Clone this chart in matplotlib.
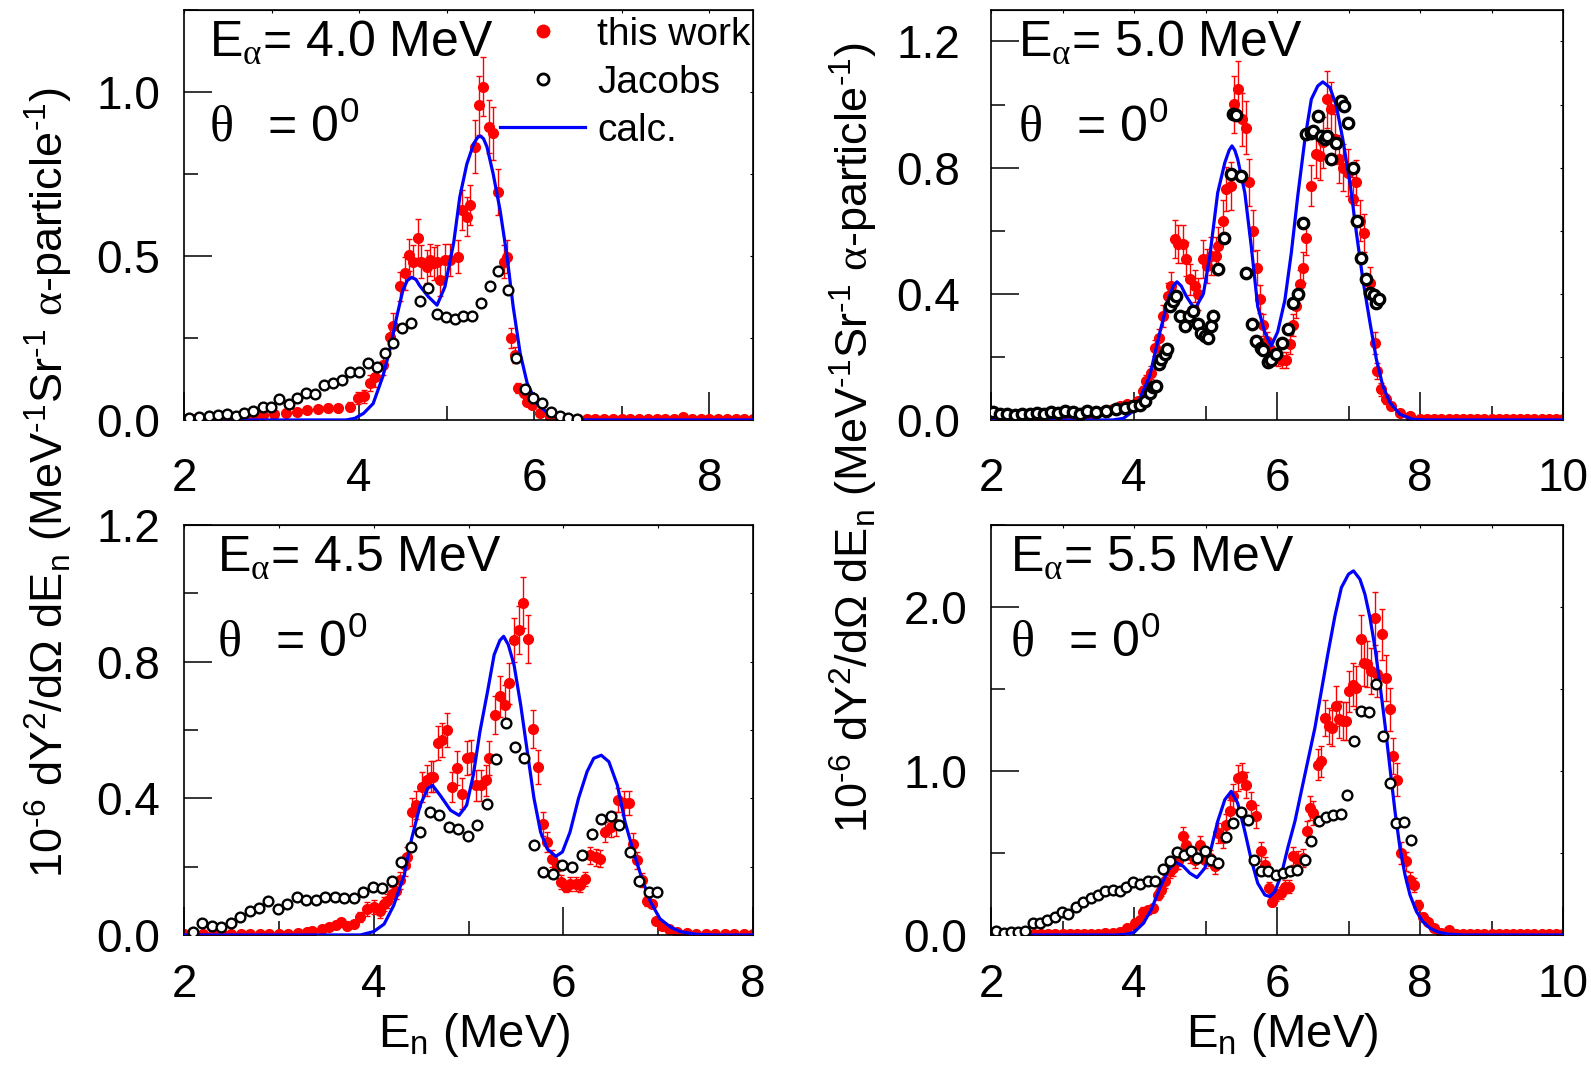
import matplotlib
matplotlib.use("Agg")
import matplotlib.pyplot as plt
from matplotlib.lines import Line2D
from matplotlib.ticker import MultipleLocator, FormatStrFormatter

plt.rcParams["font.family"] = ["Liberation Sans", "DejaVu Sans"]
plt.rcParams["mathtext.fontset"] = "custom"
plt.rcParams["mathtext.rm"] = "Liberation Serif"
plt.rcParams["mathtext.sf"] = "Liberation Sans"
plt.rcParams["mathtext.it"] = "Liberation Sans:italic"
plt.rcParams["mathtext.bf"] = "Liberation Sans:bold"

# ---------------- E_alpha = 4.0 MeV ----------------
e40_x = [2.90, 3.03, 3.16, 3.29, 3.40, 3.53, 3.64, 3.76, 3.89, 3.99,
         4.05, 4.12, 4.18, 4.27, 4.35, 4.39, 4.47, 4.52, 4.57, 4.62,
         4.67, 4.71, 4.77, 4.81, 4.85, 4.89, 4.92, 4.98, 5.04, 5.13,
         5.17, 5.23, 5.27, 5.32, 5.37, 5.42, 5.48, 5.53, 5.59, 5.65,
         5.69, 5.73, 5.78, 5.82, 5.88, 5.92, 5.97, 6.07, 6.18]
e40_y = [0.014, 0.017, 0.022, 0.024, 0.030, 0.034, 0.037, 0.035, 0.041, 0.066,
         0.072, 0.112, 0.130, 0.168, 0.254, 0.285, 0.407, 0.447, 0.503, 0.483,
         0.554, 0.483, 0.467, 0.488, 0.478, 0.483, 0.427, 0.488, 0.488, 0.498,
         0.640, 0.620, 0.655, 0.833, 0.960, 1.016, 0.894, 0.874, 0.696, 0.483,
         0.498, 0.249, 0.198, 0.097, 0.081, 0.056, 0.046, 0.020, 0.010]
e40_err = [0.008, 0.008, 0.008, 0.010, 0.010, 0.010, 0.012, 0.012, 0.014, 0.018,
           0.020, 0.025, 0.030, 0.030, 0.035, 0.040, 0.045, 0.050, 0.050, 0.050,
           0.060, 0.050, 0.050, 0.050, 0.050, 0.050, 0.050, 0.050, 0.050, 0.050,
           0.060, 0.060, 0.060, 0.080, 0.090, 0.090, 0.080, 0.080, 0.070, 0.050,
           0.050, 0.030, 0.025, 0.015, 0.012, 0.010, 0.008, 0.005, 0.003]
e40_base_x = [2.0, 2.1, 2.2, 2.3, 2.4, 2.5, 2.6, 2.7, 2.8,
              6.3, 6.4, 6.5, 6.6, 6.7, 6.8, 6.9, 7.0, 7.1, 7.2, 7.3, 7.4,
              7.5, 7.6, 7.7, 7.8, 7.9, 8.0, 8.1, 8.2, 8.3, 8.4, 8.5]
e40_base_y = [0.004, 0.004, 0.004, 0.004, 0.004, 0.004, 0.004, 0.004, 0.004,
              0.004, 0.004, 0.004, 0.004, 0.004, 0.004, 0.004, 0.004, 0.004, 0.004, 0.004, 0.004,
              0.004, 0.004, 0.010, 0.004, 0.004, 0.004, 0.004, 0.004, 0.004, 0.004, 0.004]
e40_jac_x = [2.06, 2.17, 2.28, 2.39, 2.49, 2.59, 2.68, 2.79, 2.90, 2.99,
             3.09, 3.20, 3.29, 3.39, 3.50, 3.60, 3.70, 3.80, 3.90, 4.00,
             4.10, 4.20, 4.29, 4.39, 4.49, 4.59, 4.69, 4.79, 4.89, 4.99,
             5.09, 5.19, 5.29, 5.39, 5.50, 5.59, 5.70, 5.79, 5.89, 5.99,
             6.09, 6.19, 6.29, 6.39, 6.49]
e40_jac_y = [0.007, 0.010, 0.012, 0.014, 0.017, 0.012, 0.020, 0.027, 0.040, 0.040,
             0.063, 0.048, 0.068, 0.083, 0.078, 0.108, 0.112, 0.122, 0.147, 0.147,
             0.173, 0.163, 0.203, 0.234, 0.279, 0.297, 0.364, 0.401, 0.323, 0.313,
             0.307, 0.317, 0.317, 0.356, 0.409, 0.454, 0.396, 0.188, 0.093, 0.066,
             0.051, 0.025, 0.012, 0.007, 0.003]
e40_calc_x = [2.0, 3.85, 3.95, 4.05, 4.16, 4.27, 4.35, 4.43, 4.50, 4.55,
              4.60, 4.65, 4.69, 4.79, 4.89, 4.98, 5.08, 5.15, 5.23, 5.31,
              5.35, 5.38, 5.42, 5.46, 5.53, 5.61, 5.69, 5.76, 5.84, 5.92,
              6.03, 6.18, 6.41, 6.6, 8.5]
e40_calc_y = [0.0, 0.0, 0.005, 0.02, 0.05, 0.132, 0.213, 0.315, 0.396, 0.425,
              0.435, 0.428, 0.41, 0.376, 0.35, 0.406, 0.54, 0.68, 0.78, 0.843,
              0.860, 0.866, 0.858, 0.833, 0.752, 0.64, 0.498, 0.345, 0.203, 0.112,
              0.05, 0.015, 0.002, 0.0, 0.0]

# ---------------- E_alpha = 5.0 MeV ----------------
e50_x = [4.06, 4.13, 4.17, 4.24, 4.29, 4.35, 4.41, 4.48, 4.52, 4.57,
         4.62, 4.68, 4.73, 4.78, 4.85, 4.90, 4.97, 5.02, 5.08, 5.14,
         5.17, 5.24, 5.29, 5.35, 5.40, 5.45, 5.51, 5.57, 5.61, 5.66,
         5.72, 5.76, 5.81, 5.86, 5.90, 5.96, 6.01, 6.07, 6.13, 6.18,
         6.22, 6.27, 6.32, 6.36, 6.41, 6.48, 6.55, 6.60, 6.64, 6.70,
         6.76, 6.81, 6.87, 6.92, 6.99, 7.06, 7.11, 7.16, 7.21, 7.30,
         7.37, 7.40, 7.46, 7.53, 7.60, 7.72, 7.86]
e50_y = [0.060, 0.092, 0.124, 0.150, 0.229, 0.260, 0.330, 0.393, 0.425, 0.573,
         0.557, 0.557, 0.510, 0.446, 0.425, 0.400, 0.510, 0.488, 0.520, 0.520,
         0.552, 0.631, 0.731, 0.742, 1.001, 1.049, 0.953, 0.927, 0.753, 0.600,
         0.483, 0.383, 0.300, 0.250, 0.226, 0.200, 0.195, 0.190, 0.190, 0.240,
         0.300, 0.362, 0.430, 0.483, 0.578, 0.742, 0.843, 0.837, 0.880, 1.017,
         0.985, 0.890, 0.827, 0.800, 0.784, 0.700, 0.753, 0.631, 0.594, 0.435,
         0.245, 0.155, 0.097, 0.066, 0.044, 0.023, 0.013]
e50_err = [0.012, 0.015, 0.020, 0.020, 0.025, 0.030, 0.035, 0.040, 0.045, 0.060,
           0.060, 0.060, 0.055, 0.050, 0.050, 0.050, 0.060, 0.055, 0.060, 0.060,
           0.060, 0.065, 0.070, 0.075, 0.090, 0.090, 0.085, 0.085, 0.075, 0.065,
           0.055, 0.045, 0.035, 0.030, 0.030, 0.025, 0.025, 0.025, 0.025, 0.030,
           0.035, 0.040, 0.045, 0.050, 0.055, 0.065, 0.075, 0.075, 0.080, 0.090,
           0.085, 0.080, 0.075, 0.075, 0.075, 0.070, 0.070, 0.065, 0.060, 0.050,
           0.035, 0.025, 0.020, 0.015, 0.010, 0.008, 0.005]
e50_base_x = [2.0, 2.1, 2.2, 2.3, 2.4, 2.5, 2.6, 2.7, 2.8, 2.9,
              3.0, 3.1, 3.2, 3.3, 3.4, 3.5, 3.6, 3.7, 3.8, 3.9,
              8.0, 8.1, 8.2, 8.3, 8.4, 8.5, 8.6, 8.7, 8.8, 8.9, 9.0,
              9.1, 9.2, 9.3, 9.4, 9.5, 9.6, 9.7, 9.8, 9.9, 10.0]
e50_base_y = [0.004, 0.004, 0.004, 0.004, 0.004, 0.004, 0.004, 0.004, 0.004, 0.004,
              0.008, 0.010, 0.015, 0.020, 0.020, 0.025, 0.030, 0.035, 0.045, 0.050,
              0.004, 0.004, 0.004, 0.004, 0.004, 0.004, 0.004, 0.004, 0.004, 0.004, 0.004,
              0.004, 0.004, 0.004, 0.004, 0.004, 0.004, 0.004, 0.004, 0.004, 0.004]
e50_jac_x = [2.03, 2.13, 2.23, 2.33, 2.43, 2.54, 2.64, 2.74, 2.84, 2.94,
             3.04, 3.14, 3.24, 3.34, 3.47, 3.61, 3.75, 3.87, 3.99, 4.08,
             4.15, 4.22, 4.27, 4.31, 4.35, 4.38, 4.43, 4.46, 4.50, 4.55,
             4.59, 4.64, 4.71, 4.77, 4.83, 4.90, 4.94, 4.99, 5.03, 5.08,
             5.11, 5.17, 5.26, 5.36, 5.39, 5.43, 5.50, 5.56, 5.65, 5.71,
             5.77, 5.81, 5.87, 5.92, 5.99, 6.07, 6.16, 6.22, 6.29, 6.36,
             6.41, 6.47, 6.51, 6.57, 6.62, 6.67, 6.70, 6.76, 6.82, 6.89,
             6.94, 6.99, 7.06, 7.12, 7.18, 7.24, 7.30, 7.35, 7.39, 7.43]
e50_jac_y = [0.025, 0.018, 0.020, 0.015, 0.020, 0.018, 0.022, 0.020, 0.026, 0.022,
             0.028, 0.025, 0.020, 0.030, 0.025, 0.029, 0.034, 0.039, 0.044, 0.047,
             0.060, 0.087, 0.103, 0.108, 0.177, 0.192, 0.208, 0.224, 0.362, 0.377,
             0.393, 0.330, 0.298, 0.330, 0.346, 0.303, 0.277, 0.266, 0.261, 0.298,
             0.330, 0.478, 0.578, 0.779, 0.969, 0.966, 0.774, 0.467, 0.303, 0.250,
             0.229, 0.222, 0.184, 0.190, 0.208, 0.243, 0.290, 0.372, 0.398, 0.626,
             0.908, 0.911, 0.916, 0.964, 0.900, 0.890, 0.900, 0.827, 0.877, 1.012,
             0.996, 0.943, 0.800, 0.631, 0.515, 0.446, 0.404, 0.395, 0.372, 0.383]
e50_calc_x = [2.0, 3.7, 3.85, 4.0, 4.08, 4.22, 4.36, 4.48, 4.55, 4.60,
              4.66, 4.73, 4.85, 4.97, 5.06, 5.17, 5.27, 5.33, 5.37, 5.41,
              5.45, 5.55, 5.64, 5.73, 5.83, 5.92, 6.01, 6.11, 6.20, 6.29,
              6.39, 6.48, 6.57, 6.64, 6.74, 6.83, 6.92, 7.02, 7.11, 7.20,
              7.30, 7.39, 7.48, 7.58, 7.72, 7.90, 8.1, 10.0]
e50_calc_y = [0.0, 0.0, 0.005, 0.03, 0.066, 0.14, 0.277, 0.383, 0.425, 0.438,
              0.425, 0.393, 0.351, 0.40, 0.52, 0.72, 0.816, 0.855, 0.869, 0.855,
              0.827, 0.72, 0.55, 0.36, 0.277, 0.235, 0.28, 0.38, 0.53, 0.71,
              0.89, 1.017, 1.059, 1.072, 1.054, 0.996, 0.89, 0.753, 0.594, 0.446,
              0.309, 0.192, 0.108, 0.055, 0.018, 0.002, 0.0, 0.0]

# ---------------- E_alpha = 4.5 MeV ----------------
e45_x = [3.35, 3.45, 3.53, 3.60, 3.65, 3.72, 3.79, 3.86, 3.93, 4.00,
         4.07, 4.11, 4.14, 4.19, 4.23, 4.28, 4.33, 4.35, 4.40, 4.45,
         4.51, 4.56, 4.60, 4.63, 4.68, 4.72, 4.77, 4.83, 4.88, 4.93,
         4.98, 5.03, 5.08, 5.13, 5.18, 5.22, 5.28, 5.33, 5.38, 5.43,
         5.48, 5.53, 5.57, 5.63, 5.68, 5.73, 5.78, 5.83, 5.88, 5.93,
         5.98, 6.03, 6.07, 6.13, 6.18, 6.23, 6.28, 6.34, 6.39, 6.44,
         6.50, 6.55, 6.58, 6.64, 6.69, 6.73, 6.78, 6.83, 6.88, 6.93,
         6.98, 7.04, 7.11]
e45_y = [0.013, 0.017, 0.022, 0.030, 0.037, 0.027, 0.032, 0.052, 0.076, 0.081,
         0.071, 0.091, 0.100, 0.120, 0.130, 0.160, 0.204, 0.228, 0.360, 0.380,
         0.433, 0.453, 0.463, 0.463, 0.561, 0.570, 0.600, 0.433, 0.489, 0.414,
         0.517, 0.522, 0.438, 0.438, 0.453, 0.517, 0.644, 0.698, 0.673, 0.737,
         0.864, 0.893, 0.972, 0.867, 0.603, 0.492, 0.326, 0.272, 0.223, 0.199,
         0.155, 0.140, 0.150, 0.150, 0.145, 0.164, 0.233, 0.228, 0.223, 0.301,
         0.316, 0.326, 0.394, 0.385, 0.385, 0.267, 0.218, 0.160, 0.100, 0.091,
         0.042, 0.027, 0.018]
e45_err = [0.006, 0.008, 0.008, 0.010, 0.010, 0.010, 0.010, 0.015, 0.020, 0.020,
           0.020, 0.020, 0.020, 0.020, 0.025, 0.025, 0.030, 0.030, 0.040, 0.040,
           0.045, 0.045, 0.045, 0.045, 0.050, 0.050, 0.050, 0.045, 0.050, 0.045,
           0.050, 0.050, 0.045, 0.045, 0.045, 0.050, 0.055, 0.060, 0.060, 0.060,
           0.065, 0.070, 0.075, 0.070, 0.055, 0.050, 0.035, 0.030, 0.025, 0.020,
           0.020, 0.015, 0.020, 0.020, 0.020, 0.020, 0.025, 0.025, 0.025, 0.030,
           0.030, 0.035, 0.035, 0.035, 0.035, 0.030, 0.025, 0.020, 0.015, 0.010,
           0.008, 0.006, 0.005]
e45_base_x = [2.0, 2.1, 2.2, 2.3, 2.4, 2.5, 2.6, 2.7, 2.8, 2.9, 3.0, 3.1, 3.2, 3.3,
              7.2, 7.3, 7.4, 7.5, 7.6, 7.7, 7.8, 7.9, 8.0]
e45_base_y = [0.004, 0.004, 0.004, 0.004, 0.004, 0.004, 0.004, 0.004, 0.004, 0.004,
              0.004, 0.004, 0.006, 0.008,
              0.010, 0.006, 0.004, 0.004, 0.004, 0.004, 0.004, 0.004, 0.004]
e45_jac_x = [2.09, 2.19, 2.29, 2.39, 2.49, 2.59, 2.69, 2.79, 2.89, 2.99,
             3.09, 3.19, 3.29, 3.39, 3.49, 3.59, 3.69, 3.79, 3.89, 3.99,
             4.09, 4.19, 4.29, 4.39, 4.49, 4.59, 4.69, 4.79, 4.89, 4.99,
             5.09, 5.19, 5.29, 5.39, 5.49, 5.59, 5.69, 5.79, 5.89, 5.99,
             6.09, 6.20, 6.30, 6.40, 6.50, 6.59, 6.70, 6.80, 6.90, 6.99]
e45_jac_y = [0.008, 0.034, 0.027, 0.022, 0.034, 0.054, 0.071, 0.080, 0.100, 0.075,
             0.090, 0.111, 0.101, 0.101, 0.112, 0.112, 0.108, 0.108, 0.127, 0.140,
             0.137, 0.157, 0.213, 0.257, 0.301, 0.360, 0.352, 0.316, 0.309, 0.290,
             0.321, 0.382, 0.515, 0.619, 0.551, 0.519, 0.264, 0.184, 0.179, 0.204,
             0.199, 0.233, 0.296, 0.340, 0.348, 0.323, 0.243, 0.157, 0.125, 0.125]
e45_calc_x = [2.0, 3.86, 4.0, 4.11, 4.21, 4.32, 4.40, 4.49, 4.57, 4.62,
              4.70, 4.81, 4.90, 4.98, 5.05, 5.12, 5.20, 5.27, 5.33, 5.37,
              5.42, 5.48, 5.55, 5.62, 5.69, 5.76, 5.83, 5.92, 5.99, 6.07,
              6.16, 6.25, 6.32, 6.40, 6.48, 6.57, 6.65, 6.74, 6.83, 6.92,
              7.02, 7.13, 7.23, 7.40, 7.60, 8.0]
e45_calc_y = [0.0, 0.0, 0.01, 0.032, 0.086, 0.174, 0.282, 0.38, 0.429, 0.438,
              0.409, 0.365, 0.35, 0.38, 0.468, 0.595, 0.712, 0.82, 0.862, 0.874,
              0.849, 0.79, 0.673, 0.536, 0.40, 0.301, 0.252, 0.23, 0.243, 0.301,
              0.40, 0.478, 0.517, 0.526, 0.507, 0.438, 0.331, 0.243, 0.164, 0.096,
              0.047, 0.023, 0.01, 0.002, 0.0, 0.0]

# ---------------- E_alpha = 5.5 MeV ----------------
e55_x = [4.01, 4.08, 4.13, 4.20, 4.27, 4.34, 4.38, 4.44, 4.50, 4.55,
         4.62, 4.68, 4.73, 4.78, 4.85, 4.92, 4.99, 5.06, 5.13, 5.17,
         5.24, 5.29, 5.34, 5.39, 5.45, 5.51, 5.57, 5.64, 5.71, 5.77,
         5.83, 5.89, 5.93, 5.99, 6.05, 6.11, 6.17, 6.22, 6.29, 6.36,
         6.42, 6.46, 6.51, 6.57, 6.62, 6.67, 6.73, 6.77, 6.82, 6.86,
         6.92, 6.97, 7.01, 7.06, 7.11, 7.17, 7.21, 7.26, 7.32, 7.37,
         7.40, 7.47, 7.53, 7.58, 7.62, 7.68, 7.74, 7.80, 7.86, 7.91,
         7.97, 8.04, 8.11]
e55_y = [0.071, 0.092, 0.143, 0.153, 0.163, 0.244, 0.275, 0.326, 0.387, 0.407,
         0.448, 0.601, 0.550, 0.489, 0.458, 0.550, 0.458, 0.468, 0.418, 0.621,
         0.591, 0.672, 0.754, 0.845, 0.957, 0.967, 0.916, 0.794, 0.723, 0.509,
         0.428, 0.285, 0.204, 0.244, 0.255, 0.295, 0.295, 0.479, 0.458, 0.468,
         0.631, 0.774, 0.743, 1.039, 1.059, 1.324, 1.273, 1.263, 1.395, 1.314,
         1.303, 1.303, 1.487, 1.527, 1.507, 1.802, 1.660, 1.650, 1.609, 1.930,
         1.589, 1.833, 1.568, 1.375, 1.090, 0.947, 0.499, 0.448, 0.336, 0.305,
         0.183, 0.112, 0.081]
e55_err = [0.020, 0.020, 0.025, 0.025, 0.025, 0.030, 0.035, 0.040, 0.040, 0.045,
           0.045, 0.060, 0.055, 0.050, 0.050, 0.055, 0.050, 0.050, 0.045, 0.060,
           0.060, 0.065, 0.070, 0.075, 0.080, 0.080, 0.080, 0.075, 0.070, 0.055,
           0.050, 0.040, 0.030, 0.035, 0.035, 0.040, 0.040, 0.055, 0.055, 0.055,
           0.065, 0.075, 0.075, 0.095, 0.095, 0.110, 0.110, 0.110, 0.120, 0.115,
           0.115, 0.115, 0.125, 0.130, 0.130, 0.150, 0.140, 0.140, 0.140, 0.160,
           0.140, 0.155, 0.140, 0.130, 0.110, 0.100, 0.065, 0.060, 0.050, 0.045,
           0.030, 0.020, 0.015]
e55_base_x = [2.0, 2.1, 2.2, 2.3, 2.4, 2.5, 2.6, 2.7, 2.8, 2.9,
              3.0, 3.1, 3.2, 3.3, 3.4, 3.5, 3.6, 3.7, 3.8, 3.9,
              8.2, 8.3, 8.4, 8.5, 8.6, 8.7, 8.8, 8.9, 9.0, 9.1,
              9.2, 9.3, 9.4, 9.5, 9.6, 9.7, 9.8, 9.9, 10.0]
e55_base_y = [0.008, 0.008, 0.008, 0.008, 0.008, 0.008, 0.008, 0.008, 0.008, 0.008,
              0.008, 0.008, 0.008, 0.008, 0.008, 0.008, 0.010, 0.015, 0.020, 0.040,
              0.040, 0.010, 0.032, 0.008, 0.008, 0.008, 0.008, 0.008, 0.008, 0.008,
              0.008, 0.008, 0.008, 0.008, 0.008, 0.008, 0.008, 0.008, 0.008]
e55_jac_x = [2.07, 2.18, 2.28, 2.38, 2.48, 2.58, 2.68, 2.78, 2.89, 2.99,
             3.08, 3.19, 3.29, 3.40, 3.50, 3.59, 3.70, 3.80, 3.89, 3.99,
             4.09, 4.20, 4.29, 4.40, 4.50, 4.60, 4.70, 4.79, 4.88, 4.99,
             5.08, 5.18, 5.28, 5.38, 5.49, 5.59, 5.68, 5.78, 5.88, 5.98,
             6.08, 6.18, 6.28, 6.39, 6.48, 6.59, 6.68, 6.78, 6.89, 6.98,
             7.08, 7.18, 7.28, 7.38, 7.48, 7.58, 7.67, 7.77, 7.87]
e55_jac_y = [0.026, 0.012, 0.016, 0.020, 0.026, 0.073, 0.073, 0.093, 0.107, 0.138,
             0.128, 0.172, 0.202, 0.224, 0.244, 0.269, 0.275, 0.269, 0.295, 0.322,
             0.310, 0.326, 0.330, 0.403, 0.448, 0.505, 0.489, 0.513, 0.472, 0.509,
             0.458, 0.438, 0.595, 0.682, 0.747, 0.703, 0.458, 0.387, 0.387, 0.367,
             0.377, 0.387, 0.397, 0.458, 0.570, 0.692, 0.717, 0.733, 0.737, 0.851,
             1.185, 1.365, 1.360, 1.532, 1.212, 0.927, 0.682, 0.686, 0.580]
e55_calc_x = [2.0, 3.75, 3.89, 4.0, 4.13, 4.24, 4.36, 4.48, 4.58, 4.69,
              4.78, 4.88, 4.99, 5.08, 5.17, 5.27, 5.36, 5.45, 5.55, 5.64,
              5.73, 5.83, 5.90, 5.97, 6.06, 6.15, 6.25, 6.34, 6.43, 6.53,
              6.62, 6.71, 6.81, 6.90, 7.0, 7.07, 7.16, 7.23, 7.30, 7.37,
              7.44, 7.51, 7.58, 7.65, 7.72, 7.79, 7.86, 7.95, 8.04, 8.14,
              8.25, 8.4, 8.6, 10.0]
e55_calc_y = [0.0, 0.0, 0.004, 0.016, 0.071, 0.153, 0.285, 0.397, 0.444, 0.418,
              0.377, 0.35, 0.407, 0.53, 0.692, 0.825, 0.876, 0.804, 0.631, 0.458,
              0.316, 0.244, 0.234, 0.265, 0.367, 0.53, 0.692, 0.876, 1.059, 1.263,
              1.487, 1.711, 1.945, 2.118, 2.2, 2.22, 2.169, 2.077, 1.935, 1.752,
              1.527, 1.283, 1.018, 0.754, 0.53, 0.367, 0.244, 0.143, 0.081, 0.041,
              0.018, 0.005, 0.0, 0.0]

RED = "#ff0000"
BLUE = "#0000ff"
TICK_FS = 33
ANN_FS = 36
# ROOT-style hyphen in the exponents
YLABEL = (r"10$^{\mathsf{‐6}}$ dY$^{\mathsf{2}}$/dΩ dE$_{\mathsf{n}}$ "
          r"(MeV$^{\mathsf{‐1}}$Sr$^{\mathsf{‐1}}$ $\mathrm{\alpha}$-particle$^{\mathsf{‐1}}$)")
XLABEL = r"E$_{\mathsf{n}}$ (MeV)"


def draw_panel(ax, red, base, jac, calc, xmax, ymax, ystep, e_text, text_x,
               xpad=20, ypad=17, jac_ms=7.0, jac_mew=1.7):
    rx, ry, rerr = red
    ax.errorbar(rx, ry, yerr=rerr, fmt="o", ms=7, color=RED, mec=RED,
                ecolor=RED, elinewidth=1.0, capsize=2.5, capthick=1.0, zorder=2)
    ax.plot(base[0], base[1], "o", ms=7, color=RED, zorder=2)
    ax.plot(calc[0], calc[1], color=BLUE, lw=2.3, zorder=3)
    ax.plot(jac[0], jac[1], "o", ms=jac_ms, mfc="white", mec="black",
            mew=jac_mew, zorder=4)

    ax.set_xlim(2, xmax)
    ax.set_ylim(0, ymax)
    ax.xaxis.set_major_locator(MultipleLocator(2))
    ax.xaxis.set_minor_locator(MultipleLocator(1))
    ax.yaxis.set_major_locator(MultipleLocator(ystep))
    ax.yaxis.set_minor_locator(MultipleLocator(ystep / 2))
    ax.xaxis.set_major_formatter(FormatStrFormatter("%d"))
    ax.yaxis.set_major_formatter(FormatStrFormatter("%.1f"))
    ax.tick_params(which="both", direction="in", width=1.1, labelsize=TICK_FS)
    ax.tick_params(which="major", length=20)
    ax.tick_params(which="minor", length=10)
    ax.tick_params(axis="x", pad=xpad)
    ax.tick_params(axis="y", pad=ypad)
    for sp in ax.spines.values():
        sp.set_linewidth(1.2)

    # faint opposite-side ticks
    top = ax.secondary_xaxis("top")
    top.xaxis.set_major_locator(MultipleLocator(2))
    top.xaxis.set_minor_locator(MultipleLocator(1))
    top.tick_params(which="both", direction="in", length=2.5, width=0.8, labeltop=False)
    right = ax.secondary_yaxis("right")
    right.yaxis.set_major_locator(MultipleLocator(ystep))
    right.yaxis.set_minor_locator(MultipleLocator(ystep / 2))
    right.tick_params(which="both", direction="in", length=2.5, width=0.8, labelright=False)

    ax.text(text_x, 0.888, r"E$_{\mathrm{\alpha}}$= " + e_text,
            transform=ax.transAxes, fontsize=ANN_FS, ha="left", va="baseline")
    ax.text(text_x, 0.678, r"$\mathrm{\theta}\,\,\,$ = 0$^{\mathsf{0}}$",
            transform=ax.transAxes, fontsize=ANN_FS, ha="left", va="baseline")


fig = plt.figure(figsize=(15.91, 10.70), dpi=100)
ax_a = fig.add_axes([0.1157, 0.6075, 0.3576, 0.3832])
ax_b = fig.add_axes([0.6229, 0.6075, 0.3595, 0.3832])
ax_c = fig.add_axes([0.1157, 0.1262, 0.3576, 0.3832])
ax_d = fig.add_axes([0.6229, 0.1262, 0.3595, 0.3832])

draw_panel(ax_a, (e40_x, e40_y, e40_err), (e40_base_x, e40_base_y),
           (e40_jac_x, e40_jac_y), (e40_calc_x, e40_calc_y),
           8.5, 1.25, 0.5, "4.0 MeV", 0.044, xpad=27)
draw_panel(ax_b, (e50_x, e50_y, e50_err), (e50_base_x, e50_base_y),
           (e50_jac_x, e50_jac_y), (e50_calc_x, e50_calc_y),
           10, 1.3, 0.4, "5.0 MeV", 0.048, xpad=27, ypad=22,
           jac_ms=7.5, jac_mew=2.4)
draw_panel(ax_c, (e45_x, e45_y, e45_err), (e45_base_x, e45_base_y),
           (e45_jac_x, e45_jac_y), (e45_calc_x, e45_calc_y),
           8, 1.2, 0.4, "4.5 MeV", 0.057, xpad=20)
draw_panel(ax_d, (e55_x, e55_y, e55_err), (e55_base_x, e55_base_y),
           (e55_jac_x, e55_jac_y), (e55_calc_x, e55_calc_y),
           10, 2.5, 1.0, "5.5 MeV", 0.034, xpad=20)

handles = [
    Line2D([], [], ls="none", marker="o", ms=9, color=RED),
    Line2D([], [], ls="none", marker="o", ms=8, mfc="white", mec="black", mew=2.0),
    Line2D([], [], color=BLUE, lw=2.3),
]
ax_a.legend(handles, ["this work", "Jacobs", "calc."], loc="upper left",
            bbox_to_anchor=(0.555, 0.983), frameon=False, fontsize=28,
            handlelength=2.2, handletextpad=0.3, labelspacing=0.31,
            borderpad=0.0, borderaxespad=0.0, numpoints=1)

fig.text(0.031, 0.549, YLABEL, rotation=90, fontsize=32.5, ha="center", va="center")
fig.text(0.537, 0.591, YLABEL, rotation=90, fontsize=32.5, ha="center", va="center")
fig.text(0.298, 0.0215, XLABEL, fontsize=34, ha="center", va="baseline")
fig.text(0.806, 0.0215, XLABEL, fontsize=34, ha="center", va="baseline")

fig.savefig("out.png", dpi=100)
